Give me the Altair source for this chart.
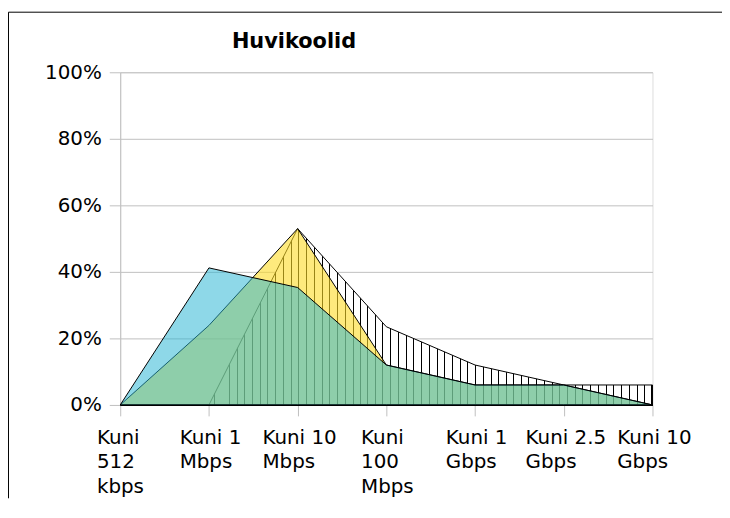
import json
import altair as alt
import pandas as pd

# ---- data ----
categories = ["Kuni 512 kbps", "Kuni 1 Mbps", "Kuni 10 Mbps", "Kuni 100 Mbps",
              "Kuni 1 Gbps", "Kuni 2.5 Gbps", "Kuni 10 Gbps"]
label_lines = [["Kuni", "512", "kbps"], ["Kuni 1", "Mbps"], ["Kuni 10", "Mbps"],
               ["Kuni", "100", "Mbps"], ["Kuni 1", "Gbps"], ["Kuni 2.5", "Gbps"],
               ["Kuni 10", "Gbps"]]
blue_vals = [0, 41.2, 35.3, 12.0, 6.0, 6.0, 0]
yellow_vals = [0, 23.9, 53.0, 12.0, 6.0, 6.0, 0]
hatch_vals = [0, 0, 53.0, 23.5, 12.0, 6.0, 6.0]
y_ticks = [0, 20, 40, 60, 80, 100]
title_text = "Huvikoolid"

# ---- layout / style ----
W, H = 536, 335
FONT = "DejaVu Sans"
GRID = "#BFBFBF"
label_offsets = [-24, -30, -36, -26, -30, -39, -36]

df = pd.DataFrame({"cat": categories, "blue": blue_vals,
                   "yellow": yellow_vals, "hatch": hatch_vals})

# vertical hatch as a hard-stop gradient (1px black lines every ~7.7px)
stops = []
pos = sorted({int(round(W - 1 - 7.73 * k)) for k in range(70) if W - 1 - 7.73 * k >= 0})
for p in pos:
    a, b = p / W, (p + 1) / W
    stops += [alt.GradientStop(offset=a, color="white"),
              alt.GradientStop(offset=a, color="black"),
              alt.GradientStop(offset=b, color="black"),
              alt.GradientStop(offset=b, color="white")]
hatch_fill = alt.Gradient(gradient="linear", stops=stops, x1=0, x2=1, y1=0, y2=0)

lines_obj = json.dumps({c: l for c, l in zip(categories, label_lines)})
offset_cond = {"condition": [{"test": f"datum.value === {json.dumps(c)}", "value": o}
                             for c, o in zip(categories, label_offsets)],
               "value": 0}

x_enc = alt.X("cat:O", sort=categories, title=None,
              scale=alt.Scale(type="point", padding=0),
              axis=alt.Axis(labelExpr=f"{lines_obj}[datum.value]",
                            labelAngle=0, labelAlign="left", labelBaseline="top",
                            labelOffset=offset_cond, labelPadding=12,
                            labelLineHeight=24.5, labelFont=FONT, labelFontSize=20,
                            labelColor="black", labelOverlap=False, labelBound=False,
                            domainColor="black", domainWidth=1,
                            tickColor=GRID, tickSize=11, grid=False))

y_axis = alt.Axis(values=y_ticks, labelExpr="datum.value + '%'", labelFont=FONT,
                  labelFontSize=20, labelColor="black", labelPadding=8,
                  tickColor=GRID, tickSize=11, domainColor=GRID,
                  gridColor=GRID, gridWidth=1)

base = alt.Chart(df)

hatch = base.mark_area(fill=hatch_fill, stroke="black", strokeWidth=1,
                       interpolate="linear").encode(
    x=x_enc,
    y=alt.Y("hatch:Q", scale=alt.Scale(domain=[0, 100]), axis=y_axis, title=None))

yellow = base.mark_area(fill="#FDDC26", fillOpacity=0.6, stroke="black",
                        strokeWidth=1, interpolate="linear").encode(
    x=x_enc, y=alt.Y("yellow:Q"))

blue = base.mark_area(fill="#26B4D3", fillOpacity=0.52, stroke="black",
                      strokeWidth=1, interpolate="linear").encode(
    x=x_enc, y=alt.Y("blue:Q"))

title = alt.Chart(pd.DataFrame({"t": [title_text]})).mark_text(
    font=FONT, fontSize=21, fontWeight="bold", align="center",
    baseline="alphabetic", color="black").encode(
    text="t:N", x=alt.value(175), y=alt.value(-24))

frame_left = alt.Chart(pd.DataFrame({"a": [0]})).mark_rule(
    color="black", strokeWidth=1).encode(
    x=alt.value(-112.5), y=alt.value(-60.5), y2=alt.value(H + 94))
frame_top = alt.Chart(pd.DataFrame({"a": [0]})).mark_rule(
    color="black", strokeWidth=1).encode(
    x=alt.value(-112.5), x2=alt.value(W + 70), y=alt.value(-60.5))

chart = alt.layer(hatch, yellow, blue, title, frame_left, frame_top).properties(
    width=W, height=H,
    autosize=alt.AutoSizeParams(type="none"),
    padding={"left": 113, "top": 63, "right": 70, "bottom": 94},
).configure_view(stroke=GRID, strokeWidth=1).configure(background="white")

chart.save("out.html", embed_options={"renderer": "svg", "actions": False})
